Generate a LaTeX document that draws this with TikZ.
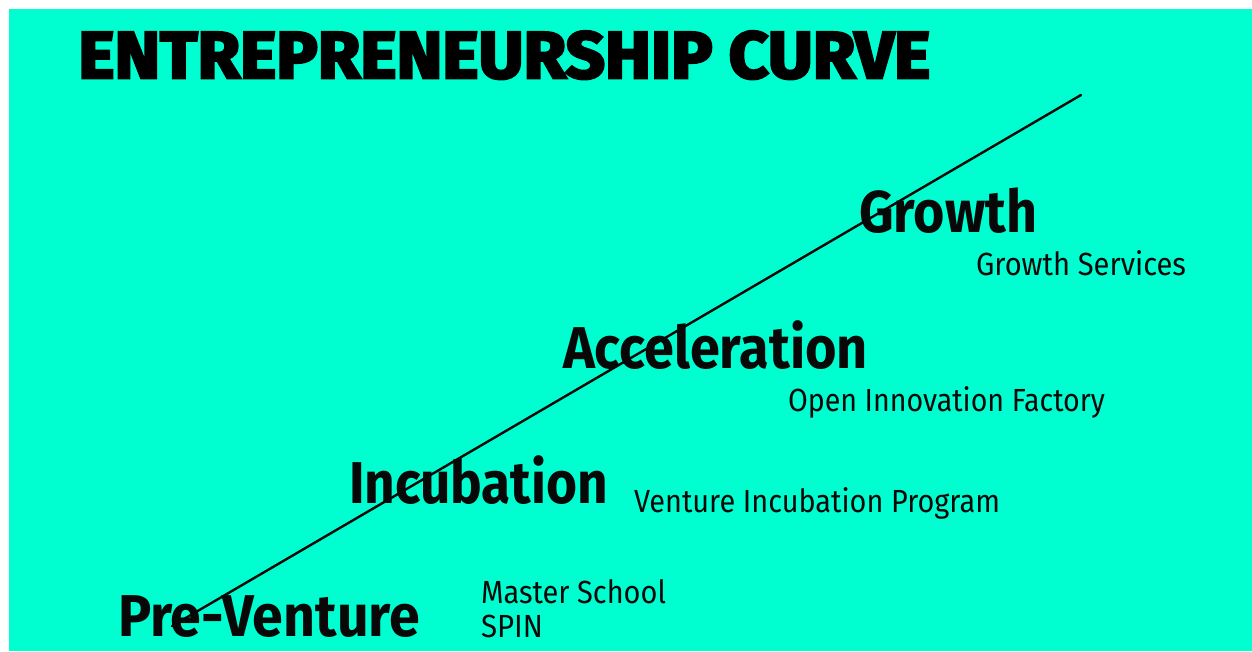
\documentclass[tikz,border=0pt]{standalone}
\usepackage{fontspec}
\usepackage{graphicx}
\setmainfont{Fira Sans}
\newfontfamily\ttlfont{Fira Sans}[BoldFeatures={FakeBold=4}]
\definecolor{bgcyan}{RGB}{0,255,208}
\definecolor{ink}{RGB}{8,8,8}
\newcommand{\fitw}[3]{\resizebox{#1pt}{\height}{\fontsize{#2}{#2}\selectfont #3}}
\tikzset{
  lbl/.style={anchor=base west, inner sep=0pt, outer sep=0pt, text=ink, font=\bfseries},
  sub/.style={anchor=base west, inner sep=0pt, outer sep=0pt, text=ink},
  curve/.style={line width=2.4pt, draw=ink, line cap=round}
}
\begin{document}
\begin{tikzpicture}[x=1pt,y=-1pt]
\useasboundingbox (0,0) rectangle (1252,651);
\fill[white] (0,0) rectangle (1252,651);
\fill[bgcyan] (9,9) rectangle (1252,651);
% title
\node[anchor=base west, inner sep=0pt, text=black] (title) at (78,78)
  {\ttlfont\bfseries\fitw{852}{66}{ENTREPRENEURSHIP CURVE}};
% stage labels
\node[lbl] (growth) at (859,232) {\fitw{178}{59}{Growth}};
\node[lbl] (accel) at (563,368) {\fitw{305}{59}{Acceleration}};
\node[lbl] (incub) at (349,503) {\fitw{259}{59}{Incubation}};
\node[lbl] (prev) at (118,636) {\fitw{302}{59}{Pre-Venture}};
% programmes
\node[sub] (gs) at (976,275) {\fitw{210}{32}{Growth Services}};
\node[sub] (oif) at (788,411) {\fitw{317}{32}{Open Innovation Factory}};
\node[sub] (vip) at (634,512) {\fitw{366}{32}{Venture Incubation Program}};
\node[sub] (ms) at (481,603) {\fitw{185}{32}{Master School}};
\node[sub] (spin) at (481,637) {\fitw{62}{32}{SPIN}};
% curve
\coordinate (cstart) at (172,626);
\coordinate (cend) at (1081,95);
\draw[curve] (cstart) -- (cend);
\end{tikzpicture}
\end{document}
